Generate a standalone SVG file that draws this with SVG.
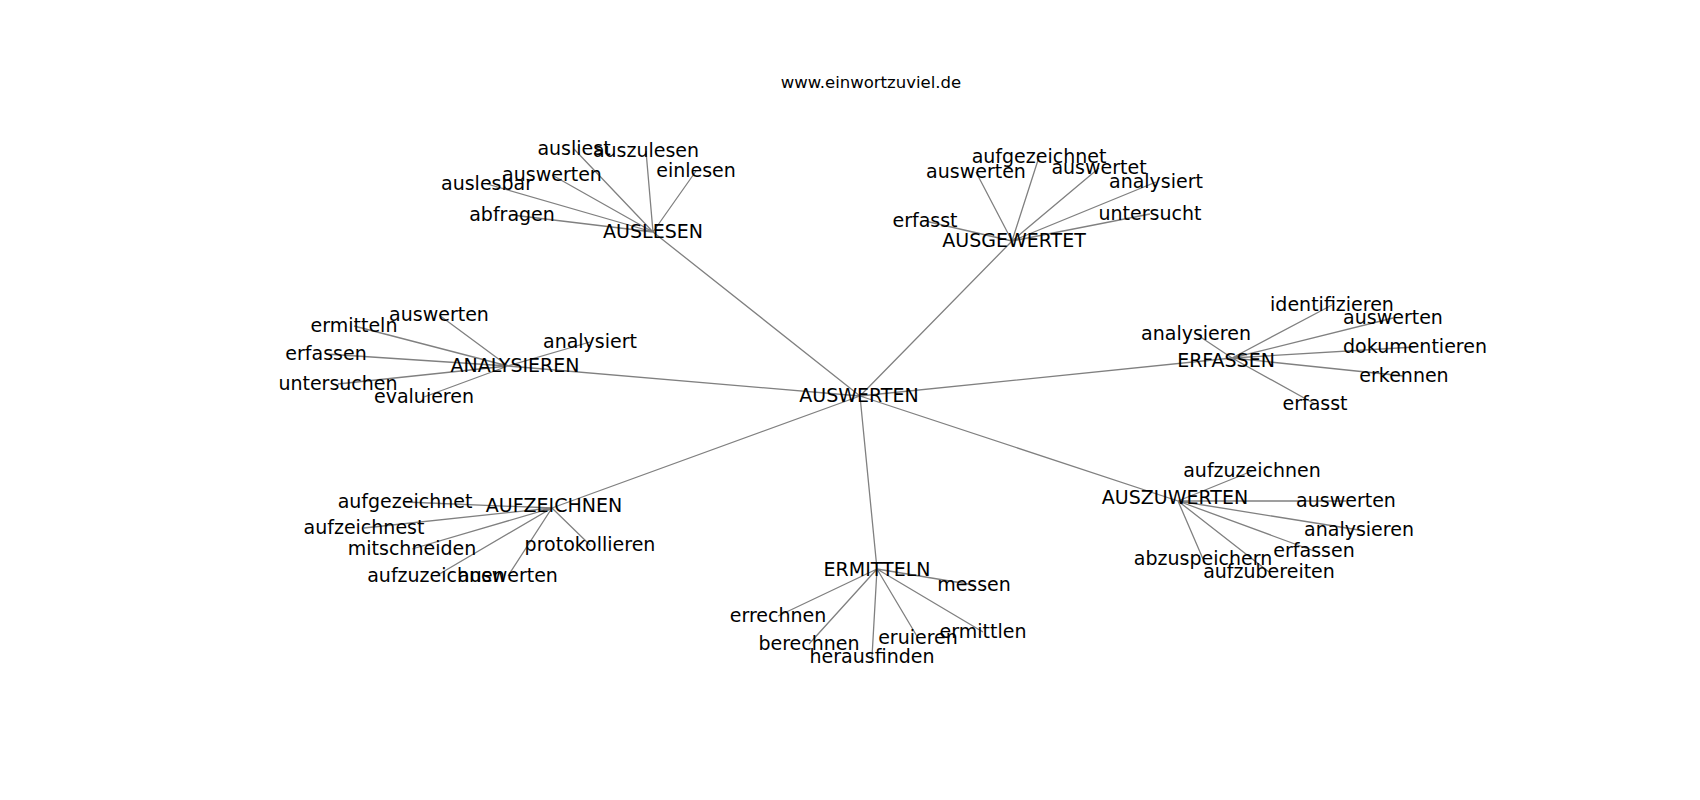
<svg xmlns="http://www.w3.org/2000/svg" width="1700" height="800" viewBox="0 0 1700 800">
<style>
.e{stroke:#808080;stroke-width:1.3;fill:none}
text{font-family:"DejaVu Sans","Liberation Sans",sans-serif;font-size:19px;fill:#000;text-anchor:middle}
.t{font-size:16.5px}
</style>
<rect width="1700" height="800" fill="#fff"/>
<g id="connectors">
<path class="e" d="M860 396L653 232M860 396L1012 241M860 396L508 366M860 396L1232 358M860 396L552 508M860 396L877 569M860 396L1178 501"/>
<path class="e" d="M653 232L574 149M653 232L646 151M653 232L696 171M653 232L552 175M653 232L487 184M653 232L512 215"/>
<path class="e" d="M1012 241L976 172M1012 241L1039 157M1012 241L1099 168M1012 241L1156 182M1012 241L1150 214M1012 241L925 221"/>
<path class="e" d="M508 366L590 342M508 366L439 315M508 366L354 326M508 366L326 354M508 366L338 384M508 366L424 397"/>
<path class="e" d="M1232 358L1332 305M1232 358L1393 318M1232 358L1415 347M1232 358L1404 376M1232 358L1315 404M1232 358L1196 334"/>
<path class="e" d="M552 508L405 502M552 508L364 528M552 508L412 549M552 508L590 545M552 508L436 576M552 508L508 576"/>
<path class="e" d="M877 569L974 585M877 569L778 616M877 569L809 644M877 569L872 657M877 569L918 638M877 569L983 632"/>
<path class="e" d="M1178 501L1252 471M1178 501L1346 501M1178 501L1359 530M1178 501L1314 551M1178 501L1203 559M1178 501L1269 572"/>
</g>
<text class="t" x="871" y="88">www.einwortzuviel.de</text>
<g id="n-auswerten"><text x="859" y="402">AUSWERTEN</text></g>
<g id="n-auslesen"><text x="653" y="238">AUSLESEN</text></g>
<g id="n-auslesen-leaves">
<text x="574" y="155">ausliest</text>
<text x="646" y="157">auszulesen</text>
<text x="696" y="177">einlesen</text>
<text x="552" y="181">auswerten</text>
<text x="487" y="190">auslesbar</text>
<text x="512" y="221">abfragen</text>
</g>
<g id="n-ausgewertet"><text x="1014" y="247">AUSGEWERTET</text></g>
<g id="n-ausgewertet-leaves">
<text x="976" y="178">auswerten</text>
<text x="1039" y="163">aufgezeichnet</text>
<text x="1099" y="174">auswertet</text>
<text x="1156" y="188">analysiert</text>
<text x="1150" y="220">untersucht</text>
<text x="925" y="227">erfasst</text>
</g>
<g id="n-analysieren"><text x="515" y="372">ANALYSIEREN</text></g>
<g id="n-analysieren-leaves">
<text x="590" y="348">analysiert</text>
<text x="439" y="321">auswerten</text>
<text x="354" y="332">ermitteln</text>
<text x="326" y="360">erfassen</text>
<text x="338" y="390">untersuchen</text>
<text x="424" y="403">evaluieren</text>
</g>
<g id="n-erfassen"><text x="1226" y="367">ERFASSEN</text></g>
<g id="n-erfassen-leaves">
<text x="1332" y="311">identifizieren</text>
<text x="1393" y="324">auswerten</text>
<text x="1415" y="353">dokumentieren</text>
<text x="1404" y="382">erkennen</text>
<text x="1315" y="410">erfasst</text>
<text x="1196" y="340">analysieren</text>
</g>
<g id="n-aufzeichnen"><text x="554" y="512">AUFZEICHNEN</text></g>
<g id="n-aufzeichnen-leaves">
<text x="405" y="508">aufgezeichnet</text>
<text x="364" y="534">aufzeichnest</text>
<text x="412" y="555">mitschneiden</text>
<text x="590" y="551">protokollieren</text>
<text x="436" y="582">aufzuzeichnen</text>
<text x="508" y="582">auswerten</text>
</g>
<g id="n-ermitteln"><text x="877" y="576">ERMITTELN</text></g>
<g id="n-ermitteln-leaves">
<text x="974" y="591">messen</text>
<text x="778" y="622">errechnen</text>
<text x="809" y="650">berechnen</text>
<text x="872" y="663">herausfinden</text>
<text x="918" y="644">eruieren</text>
<text x="983" y="638">ermittlen</text>
</g>
<g id="n-auszuwerten"><text x="1175" y="504">AUSZUWERTEN</text></g>
<g id="n-auszuwerten-leaves">
<text x="1252" y="477">aufzuzeichnen</text>
<text x="1346" y="507">auswerten</text>
<text x="1359" y="536">analysieren</text>
<text x="1314" y="557">erfassen</text>
<text x="1203" y="565">abzuspeichern</text>
<text x="1269" y="578">aufzubereiten</text>
</g>
</svg>
